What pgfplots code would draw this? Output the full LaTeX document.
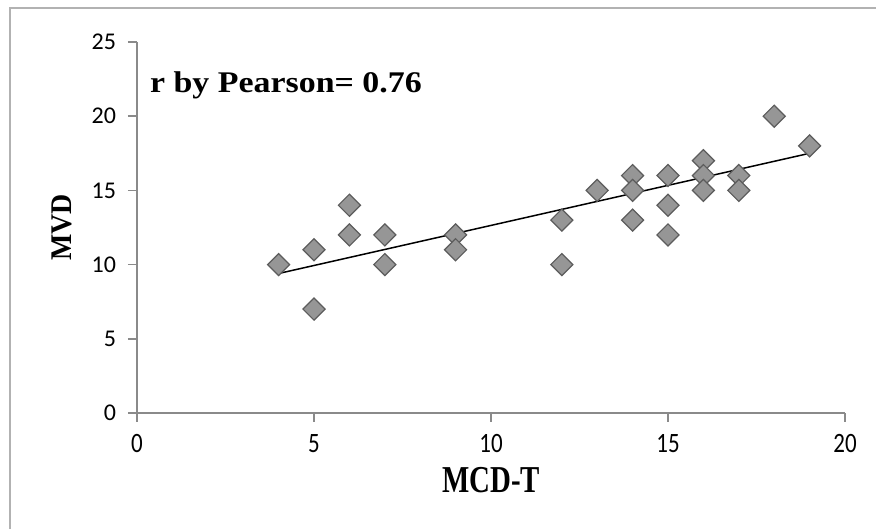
\documentclass[border=0pt]{standalone}
\usepackage{pgfplots}
\pgfplotsset{compat=1.18}
\usepackage{fontspec}
\setmainfont{Liberation Serif}
\newfontfamily\titlefont[FakeStretch=1.13]{Liberation Serif}
\newfontfamily\xlabfont[FakeStretch=0.76]{Liberation Serif}
\newfontfamily\ylabfont[FakeStretch=0.93]{Liberation Serif}
\newfontfamily\yticksfont{Carlito}
\newfontfamily\xticksfont[FakeStretch=0.82]{Carlito}

\definecolor{markfill}{HTML}{969696}
\definecolor{markdraw}{HTML}{5C5C5C}
\definecolor{axisgray}{HTML}{8A8A8A}

\begin{document}
\begin{tikzpicture}
\useasboundingbox (0,0) rectangle (438pt,264.5pt);
\draw[gray!60, line width=1.2pt] (5pt,0) -- (5pt,260.5pt) -- (438pt,260.5pt);
\begin{axis}[
  at={(68.5pt,58pt)}, anchor=south west,
  scale only axis, width=354pt, height=185.5pt,
  xmin=0, xmax=20, ymin=0, ymax=25,
  xtick={0,5,...,20}, ytick={0,5,...,25},
  axis x line*=bottom, axis y line*=left,
  axis line style={axisgray, line width=0.8pt},
  tick style={axisgray, line width=0.8pt},
  tick align=outside, major tick length=4.5pt,
  xticklabel style={font=\xticksfont\fontsize{14}{16}\selectfont, yshift=-2.5pt},
  yticklabel style={font=\yticksfont\fontsize{12}{14}\selectfont, xshift=-2.5pt},
  /pgf/number format/assume math mode=true,
  xlabel={\textbf{MCD-T}}, ylabel={\textbf{MVD}},
  xlabel style={font=\xlabfont\fontsize{19}{22}\selectfont, yshift=-0.5pt},
  ylabel style={font=\ylabfont\fontsize{15}{18}\selectfont, yshift=3pt},
  clip=false,
]
\addplot[only marks, mark=square*, mark size=3.9pt,
  mark options={rotate=45, fill=markfill, draw=markdraw, line width=0.6pt}]
  coordinates {
  (4,10) (5,11) (5,7) (6,14) (6,12) (7,12) (7,10) (9,12) (9,11)
  (12,13) (12,10) (13,15) (14,16) (14,15) (14,13) (15,16) (15,14) (15,12)
  (16,17) (16,16) (16,15) (17,16) (17,15) (18,20) (19,18)
  };
\addplot[black, line width=0.75pt, mark=none] coordinates {(4,9.4) (19,17.5)};
\node[anchor=base west, inner sep=0pt, font=\titlefont\fontsize{15}{18}\selectfont\bfseries]
  at (rel axis cs:0.018,0.865) {r by Pearson= 0.76};
\end{axis}
\end{tikzpicture}
\end{document}
